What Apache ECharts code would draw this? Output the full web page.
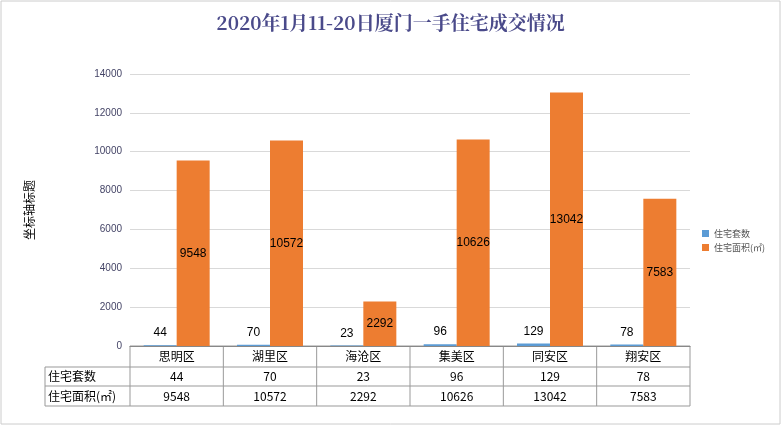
<!DOCTYPE html>
<html>
<head>
<meta charset="UTF-8">
<script src="https://cdn.jsdelivr.net/npm/echarts@6/dist/echarts.min.js"></script>
<style>
  html, body { margin: 0; padding: 0; background: #fff; }
  #main { width: 781px; height: 425px; }
</style>
</head>
<body>
<div id="main"></div>
<script>
var districts = ["思明区", "湖里区", "海沧区", "集美区", "同安区", "翔安区"];
var units = [44, 70, 23, 96, 129, 78];
var areas = [9548, 10572, 2292, 10626, 13042, 7583];
var seriesNames = ["住宅套数", "住宅面积(㎡)"];
var rowNames = ["住宅套数", "住宅面积(㎡)"];

var chart = echarts.init(document.getElementById("main"));
var L = 130, R = 690, T = 74, B = 346;
var font = "'Noto Sans CJK SC', sans-serif";

var option = {
    animation: false,
    title: {
        text: "2020年1月11-20日厦门一手住宅成交情况",
        left: "center", top: 8,
        textStyle: { color: "#4a4a8a", fontSize: 19, fontWeight: "bold", fontFamily: "'Noto Serif CJK SC', 'DejaVu Serif', serif" }
    },
    legend: {
        orient: "vertical", left: 697, top: 224, itemWidth: 7, itemHeight: 7, itemGap: 5,
        textStyle: { fontSize: 9, color: "#555", fontFamily: font },
        data: [{ name: seriesNames[0], icon: "rect" }, { name: seriesNames[1], icon: "rect" }]
    },
    grid: { left: L, right: 781 - R, top: T, bottom: 425 - B },
    xAxis: {
        type: "category", data: districts,
        axisTick: { show: false },
        axisLine: { lineStyle: { color: "#888" } },
        axisLabel: { show: false }
    },
    yAxis: {
        type: "value", min: 0, max: 14000, interval: 2000,
        name: "坐标轴标题", nameLocation: "middle", nameGap: 95, nameRotate: 90,
        nameTextStyle: { fontSize: 12, color: "#000", fontFamily: font },
        axisLabel: { fontSize: 10, color: "#444466", formatter: function (v) { return String(v); } },
        axisLine: { show: false },
        splitLine: { lineStyle: { color: "#d9d9d9" } }
    },
    series: [
        {
            name: seriesNames[0], type: "bar", data: units, barWidth: 33, barGap: "0%",
            itemStyle: { color: "#5b9bd5" },
            label: { show: true, position: "top", color: "#000", fontSize: 12, distance: 6 }
        },
        {
            name: seriesNames[1], type: "bar", data: areas, barWidth: 33,
            itemStyle: { color: "#ed7d31" },
            label: { show: true, position: "inside", color: "#000", fontSize: 12 }
        }
    ]
};
chart.setOption(option);

// data table below the plot
var rows = [B, 367, 386, 406];
var g = [];
var lc = "#999";
g.push({ type: "rect", shape: { x: 1, y: 1, width: 779, height: 423 }, style: { fill: "none", stroke: "#ccc" } });
rows.forEach(function (y, i) {
    g.push({ type: "line", shape: { x1: i === 0 ? L : 45, y1: y, x2: R, y2: y }, style: { stroke: lc } });
});
g.push({ type: "line", shape: { x1: 45, y1: rows[1], x2: 45, y2: rows[3] }, style: { stroke: lc } });
var step = (R - L) / districts.length;
for (var i = 0; i <= districts.length; i++) {
    g.push({ type: "line", shape: { x1: L + i * step, y1: B, x2: L + i * step, y2: rows[3] }, style: { stroke: lc } });
}
var rowData = [districts, units, areas];
rowData.forEach(function (arr, r) {
    var cy = (rows[r] + rows[r + 1]) / 2;
    arr.forEach(function (v, i) {
        g.push({ type: "text", x: L + (i + 0.5) * step, y: cy,
            style: { text: String(v), fill: "#000", fontSize: 12, fontFamily: font, align: "center", verticalAlign: "middle" } });
    });
    if (r > 0) {
        g.push({ type: "text", x: 48, y: cy,
            style: { text: rowNames[r - 1], fill: "#000", fontSize: 12, fontFamily: font, align: "left", verticalAlign: "middle" } });
    }
});
chart.setOption({ graphic: g });
</script>
</body>
</html>
